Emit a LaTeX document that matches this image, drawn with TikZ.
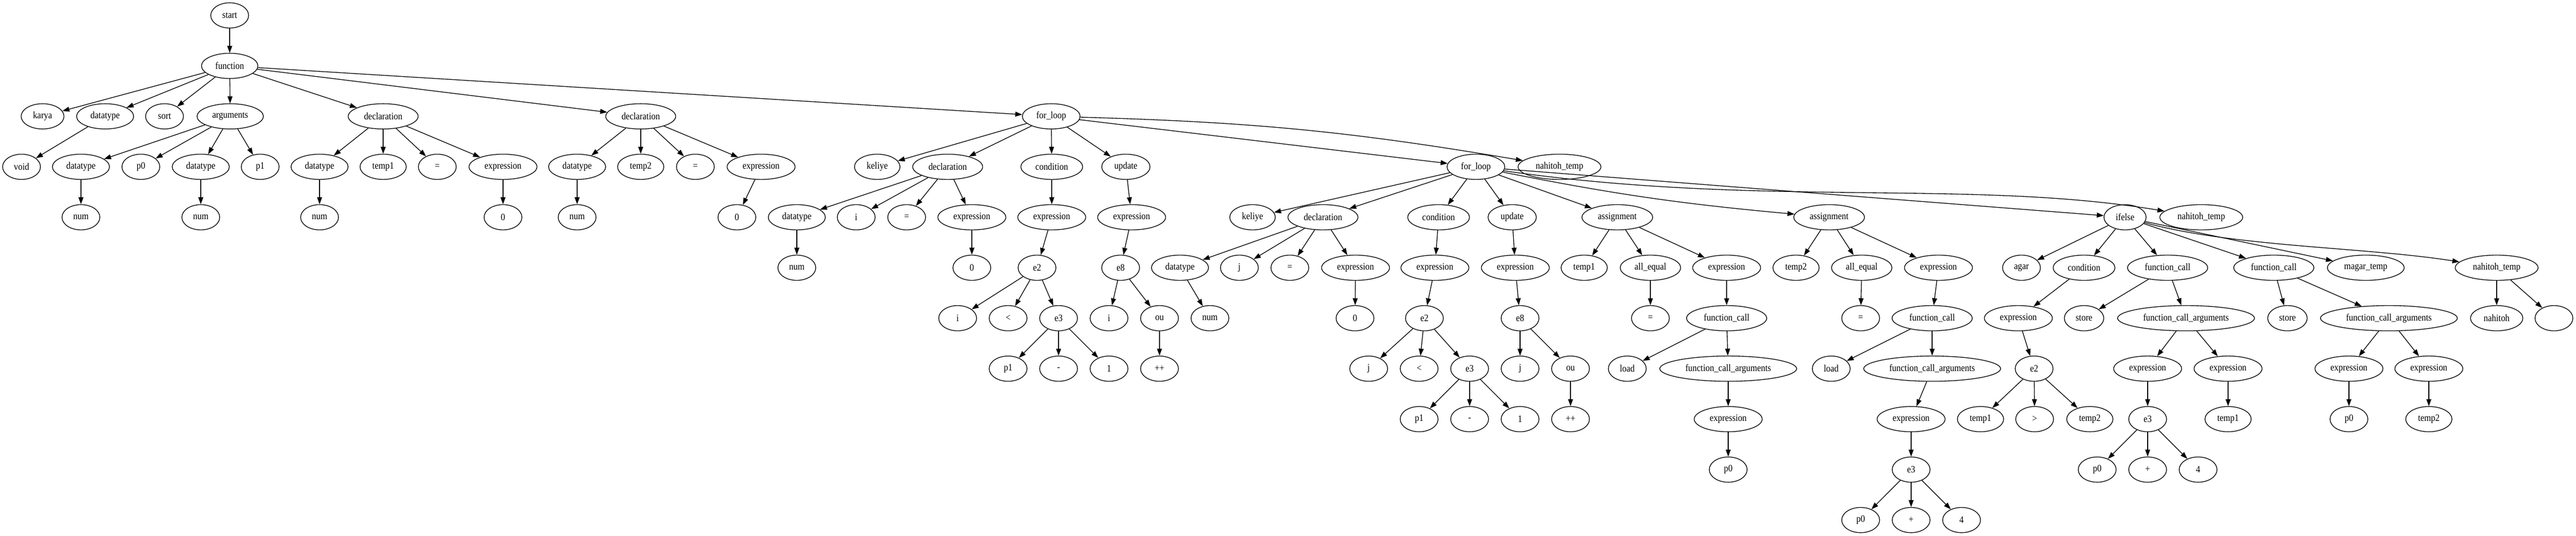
\documentclass[tikz,border=0pt]{standalone}
\usepackage{fontspec}
\setmainfont{Liberation Serif}[FakeStretch=0.88]
\usetikzlibrary{arrows.meta, shapes.geometric}

\tikzset{
	ast/.style={ellipse, draw, minimum width=54pt, minimum height=36pt, inner xsep=7.92pt, inner ysep=3.96pt, font=\fontsize{14pt}{16pt}\selectfont}
}

\begin{document}
\begin{tikzpicture}[x=0.74975pt, y=-72pt, line width=1pt, >={Triangle[length=10pt, width=7pt]}]
			\useasboundingbox (0, -0.3056) rectangle (4901, 10.3056);
			\node (start)[ast] at (437, 0) {start};
			\node (func)[ast] at (437, 1) {function};

			\node (karya)[ast] at (81, 2) {karya};
			\node (ftype)[ast] at (200, 2) {datatype};
			\node (sort)[ast] at (313, 2) {sort};
			\node (args)[ast] at (438, 2) {arguments};
			\node (decA)[ast] at (729, 2) {declaration};
			\node (decB)[ast] at (1219, 2) {declaration};
			\node (forA)[ast] at (2000, 2) {for\_loop};

			\node (void)[ast] at (41, 3) {void};
			\node (argtA)[ast] at (154, 3) {datatype};
			\node (pz)[ast] at (268, 3) {p0};
			\node (argtB)[ast] at (382, 3) {datatype};
			\node (po)[ast] at (495, 3) {p1};
			\node (decAtype)[ast] at (608, 3) {datatype};
			\node (decAid)[ast] at (729, 3) {temp1};
			\node (decAeq)[ast] at (832, 3) {=};
			\node (decAexp)[ast] at (957, 3) {expression};
			\node (decBtype)[ast] at (1098, 3) {datatype};
			\node (decBid)[ast] at (1219, 3) {temp2};
			\node (decBeq)[ast] at (1323, 3) {=};
			\node (decBexp)[ast] at (1448, 3) {expression};
			\node (kwA)[ast] at (1669, 3) {keliye};
			\node (fdecA)[ast] at (1803, 3) {declaration};
			\node (condA)[ast] at (2001, 3) {condition};
			\node (updA)[ast] at (2142, 3) {update};
			\node (forB)[ast] at (2808, 3) {for\_loop};
			\node (ntA)[ast] at (2967, 3) {nahitoh\_temp};

			\node (numA)[ast] at (154, 4) {num};
			\node (numB)[ast] at (382, 4) {num};
			\node (numC)[ast] at (608, 4) {num};
			\node (zeroA)[ast] at (957, 4) {0};
			\node (numD)[ast] at (1098, 4) {num};
			\node (zeroB)[ast] at (1402, 4) {0};
			\node (fdtA)[ast] at (1516, 4) {datatype};
			\node (iA)[ast] at (1629, 4) {i};
			\node (eqA)[ast] at (1725, 4) {=};
			\node (fexpA)[ast] at (1849, 4) {expression};
			\node (cexpA)[ast] at (2001, 4) {expression};
			\node (uexpA)[ast] at (2153, 4) {expression};
			\node (kwB)[ast] at (2383, 4) {keliye};
			\node (fdecB)[ast] at (2517, 4) {declaration};
			\node (condB)[ast] at (2737, 4) {condition};
			\node (updB)[ast] at (2877, 4) {update};
			\node (asgA)[ast] at (3077, 4) {assignment};
			\node (asgB)[ast] at (3480, 4) {assignment};
			\node (ifelse)[ast] at (4043, 4) {ifelse};
			\node (ntB)[ast] at (4188, 4) {nahitoh\_temp};

			\node (numE)[ast] at (1516, 5) {num};
			\node (zeroC)[ast] at (1849, 5) {0};
			\node (etwoA)[ast] at (1973, 5) {e2};
			\node (eeightA)[ast] at (2132, 5) {e8};
			\node (fdtB)[ast] at (2245, 5) {datatype};
			\node (jB)[ast] at (2358, 5) {j};
			\node (eqB)[ast] at (2454, 5) {=};
			\node (fexpB)[ast] at (2579, 5) {expression};
			\node (cexpB)[ast] at (2730, 5) {expression};
			\node (uexpB)[ast] at (2883, 5) {expression};
			\node (tmpA)[ast] at (3014, 5) {temp1};
			\node (alleqA)[ast] at (3140, 5) {all\_equal};
			\node (aexpA)[ast] at (3285, 5) {expression};
			\node (tmpB)[ast] at (3417, 5) {temp2};
			\node (alleqB)[ast] at (3542, 5) {all\_equal};
			\node (aexpB)[ast] at (3688, 5) {expression};
			\node (agar)[ast] at (3846, 5) {agar};
			\node (condC)[ast] at (3965, 5) {condition};
			\node (fcallA)[ast] at (4124, 5) {function\_call};
			\node (fcallB)[ast] at (4326, 5) {function\_call};
			\node (magar)[ast] at (4501, 5) {magar\_temp};
			\node (ntC)[ast] at (4750, 5) {nahitoh\_temp};

			\node (iB)[ast] at (1822, 6) {i};
			\node (ltA)[ast] at (1918, 6) {<};
			\node (ethreeA)[ast] at (2014, 6) {e3};
			\node (iC)[ast] at (2110, 6) {i};
			\node (ouA)[ast] at (2206, 6) {ou};
			\node (numF)[ast] at (2302, 6) {num};
			\node (zeroD)[ast] at (2578, 6) {0};
			\node (etwoB)[ast] at (2710, 6) {e2};
			\node (eeightB)[ast] at (2892, 6) {e8};
			\node (eqC)[ast] at (3140, 6) {=};
			\node (fcA)[ast] at (3285, 6) {function\_call};
			\node (eqD)[ast] at (3540, 6) {=};
			\node (fcB)[ast] at (3676, 6) {function\_call};
			\node (cexpC)[ast] at (3840, 6) {expression};
			\node (storeA)[ast] at (3965, 6) {store};
			\node (fcargA)[ast] at (4159, 6) {function\_call\_arguments};
			\node (storeB)[ast] at (4352, 6) {store};
			\node (fcargB)[ast] at (4545, 6) {function\_call\_arguments};
			\node (nahitoh)[ast] at (4750, 6) {nahitoh};
			\node (blank)[ast] at (4859, 6) {};

			\node (pA)[ast] at (1918, 7) {p1};
			\node (minA)[ast] at (2014, 7) {-};
			\node (oneA)[ast] at (2110, 7) {1};
			\node (ppA)[ast] at (2206, 7) {++};
			\node (jC)[ast] at (2604, 7) {j};
			\node (ltB)[ast] at (2700, 7) {<};
			\node (ethreeB)[ast] at (2796, 7) {e3};
			\node (jD)[ast] at (2892, 7) {j};
			\node (ouB)[ast] at (2988, 7) {ou};
			\node (loadA)[ast] at (3096, 7) {load};
			\node (fcaA)[ast] at (3288, 7) {function\_call\_arguments};
			\node (loadB)[ast] at (3484, 7) {load};
			\node (fcaB)[ast] at (3676, 7) {function\_call\_arguments};
			\node (etwoC)[ast] at (3870, 7) {e2};
			\node (fexpC)[ast] at (4086, 7) {expression};
			\node (fexpD)[ast] at (4239, 7) {expression};
			\node (fexpE)[ast] at (4469, 7) {expression};
			\node (fexpF)[ast] at (4621, 7) {expression};

			\node (pB)[ast] at (2700, 8) {p1};
			\node (minB)[ast] at (2796, 8) {-};
			\node (oneB)[ast] at (2892, 8) {1};
			\node (ppB)[ast] at (2988, 8) {++};
			\node (aeA)[ast] at (3288, 8) {expression};
			\node (aeB)[ast] at (3636, 8) {expression};
			\node (tA)[ast] at (3768, 8) {temp1};
			\node (gt)[ast] at (3871, 8) {>};
			\node (tB)[ast] at (3976, 8) {temp2};
			\node (ethreeC)[ast] at (4086, 8) {e3};
			\node (tC)[ast] at (4239, 8) {temp1};
			\node (pzB)[ast] at (4469, 8) {p0};
			\node (tD)[ast] at (4621, 8) {temp2};

			\node (pzC)[ast] at (3288, 9) {p0};
			\node (ethreeD)[ast] at (3636, 9) {e3};
			\node (pzD)[ast] at (3990, 9) {p0};
			\node (plusA)[ast] at (4086, 9) {+};
			\node (fourA)[ast] at (4182, 9) {4};

			\node (pzE)[ast] at (3540, 10) {p0};
			\node (plusB)[ast] at (3636, 10) {+};
			\node (fourB)[ast] at (3732, 10) {4};

			\draw[->] (start) -- (func);
			\draw[->] (func) -- (karya);
			\draw[->] (func) -- (ftype);
			\draw[->] (func) -- (sort);
			\draw[->] (func) -- (args);
			\draw[->] (func) -- (decA);
			\draw[->] (func) -- (decB);
			\draw[->] (func) -- (forA);
			\draw[->] (ftype) -- (void);
			\draw[->] (args) -- (argtA);
			\draw[->] (args) -- (pz);
			\draw[->] (args) -- (argtB);
			\draw[->] (args) -- (po);
			\draw[->] (argtA) -- (numA);
			\draw[->] (argtB) -- (numB);

			\draw[->] (decA) -- (decAtype);
			\draw[->] (decA) -- (decAid);
			\draw[->] (decA) -- (decAeq);
			\draw[->] (decA) -- (decAexp);
			\draw[->] (decAtype) -- (numC);
			\draw[->] (decAexp) -- (zeroA);
			\draw[->] (decB) -- (decBtype);
			\draw[->] (decB) -- (decBid);
			\draw[->] (decB) -- (decBeq);
			\draw[->] (decB) -- (decBexp);
			\draw[->] (decBtype) -- (numD);
			\draw[->] (decBexp) -- (zeroB);

			\draw[->] (forA) -- (kwA);
			\draw[->] (forA) -- (fdecA);
			\draw[->] (forA) -- (condA);
			\draw[->] (forA) -- (updA);
			\draw[->] (forA) -- (forB);
			\draw[->] (forA) to[bend left=4] (ntA);
			\draw[->] (fdecA) -- (fdtA);
			\draw[->] (fdecA) -- (iA);
			\draw[->] (fdecA) -- (eqA);
			\draw[->] (fdecA) -- (fexpA);
			\draw[->] (fdtA) -- (numE);
			\draw[->] (fexpA) -- (zeroC);
			\draw[->] (condA) -- (cexpA);
			\draw[->] (cexpA) -- (etwoA);
			\draw[->] (etwoA) -- (iB);
			\draw[->] (etwoA) -- (ltA);
			\draw[->] (etwoA) -- (ethreeA);
			\draw[->] (ethreeA) -- (pA);
			\draw[->] (ethreeA) -- (minA);
			\draw[->] (ethreeA) -- (oneA);
			\draw[->] (updA) -- (uexpA);
			\draw[->] (uexpA) -- (eeightA);
			\draw[->] (eeightA) -- (iC);
			\draw[->] (eeightA) -- (ouA);
			\draw[->] (ouA) -- (ppA);

			\draw[->] (forB) -- (kwB);
			\draw[->] (forB) -- (fdecB);
			\draw[->] (forB) -- (condB);
			\draw[->] (forB) -- (updB);
			\draw[->] (forB) -- (asgA);
			\draw[->] (forB) to[bend right=3] (asgB);
			\draw[->] (forB) -- (ifelse);
			\draw[->] (forB) .. controls (3350, 3.81) and (3750, 3.24) .. (ntB);
			\draw[->] (fdecB) -- (fdtB);
			\draw[->] (fdecB) -- (jB);
			\draw[->] (fdecB) -- (eqB);
			\draw[->] (fdecB) -- (fexpB);
			\draw[->] (fdtB) -- (numF);
			\draw[->] (fexpB) -- (zeroD);
			\draw[->] (condB) -- (cexpB);
			\draw[->] (cexpB) -- (etwoB);
			\draw[->] (etwoB) -- (jC);
			\draw[->] (etwoB) -- (ltB);
			\draw[->] (etwoB) -- (ethreeB);
			\draw[->] (ethreeB) -- (pB);
			\draw[->] (ethreeB) -- (minB);
			\draw[->] (ethreeB) -- (oneB);
			\draw[->] (updB) -- (uexpB);
			\draw[->] (uexpB) -- (eeightB);
			\draw[->] (eeightB) -- (jD);
			\draw[->] (eeightB) -- (ouB);
			\draw[->] (ouB) -- (ppB);

			\draw[->] (asgA) -- (tmpA);
			\draw[->] (asgA) -- (alleqA);
			\draw[->] (asgA) -- (aexpA);
			\draw[->] (alleqA) -- (eqC);
			\draw[->] (aexpA) -- (fcA);
			\draw[->] (fcA) -- (loadA);
			\draw[->] (fcA) -- (fcaA);
			\draw[->] (fcaA) -- (aeA);
			\draw[->] (aeA) -- (pzC);
			\draw[->] (asgB) -- (tmpB);
			\draw[->] (asgB) -- (alleqB);
			\draw[->] (asgB) -- (aexpB);
			\draw[->] (alleqB) -- (eqD);
			\draw[->] (aexpB) -- (fcB);
			\draw[->] (fcB) -- (loadB);
			\draw[->] (fcB) -- (fcaB);
			\draw[->] (fcaB) -- (aeB);
			\draw[->] (aeB) -- (ethreeD);
			\draw[->] (ethreeD) -- (pzE);
			\draw[->] (ethreeD) -- (plusB);
			\draw[->] (ethreeD) -- (fourB);

			\draw[->] (ifelse) -- (agar);
			\draw[->] (ifelse) -- (condC);
			\draw[->] (ifelse) -- (fcallA);
			\draw[->] (ifelse) -- (fcallB);
			\draw[->] (ifelse) -- (magar);
			\draw[->] (ifelse) .. controls (4250, 4.59) and (4500, 4.59) .. (ntC);
			\draw[->] (condC) -- (cexpC);
			\draw[->] (cexpC) -- (etwoC);
			\draw[->] (etwoC) -- (tA);
			\draw[->] (etwoC) -- (gt);
			\draw[->] (etwoC) -- (tB);
			\draw[->] (fcallA) -- (storeA);
			\draw[->] (fcallA) -- (fcargA);
			\draw[->] (fcargA) -- (fexpC);
			\draw[->] (fcargA) -- (fexpD);
			\draw[->] (fexpC) -- (ethreeC);
			\draw[->] (ethreeC) -- (pzD);
			\draw[->] (ethreeC) -- (plusA);
			\draw[->] (ethreeC) -- (fourA);
			\draw[->] (fexpD) -- (tC);
			\draw[->] (fcallB) -- (storeB);
			\draw[->] (fcallB) -- (fcargB);
			\draw[->] (fcargB) -- (fexpE);
			\draw[->] (fcargB) -- (fexpF);
			\draw[->] (fexpE) -- (pzB);
			\draw[->] (fexpF) -- (tD);
			\draw[->] (ntC) -- (nahitoh);
			\draw[->] (ntC) -- (blank);
		\end{tikzpicture}
\end{document}
